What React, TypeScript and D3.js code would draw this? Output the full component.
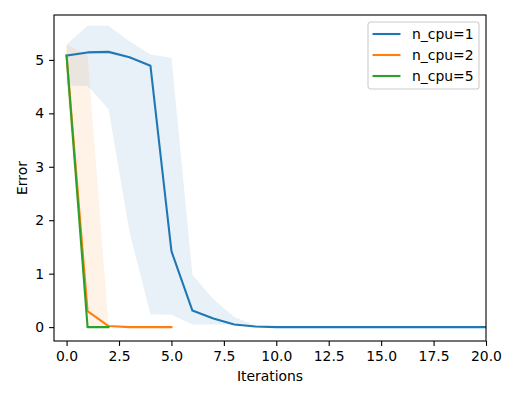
import React, { useEffect, useRef } from 'react';
import * as d3 from 'd3';

// Datos
const seriesLabels = ['n_cpu=1', 'n_cpu=2', 'n_cpu=5'];
const colors = ['#1f77b4', '#ff7f0e', '#2ca02c'];

const cpu1Mean = [5.08, 5.14, 5.15, 5.05, 4.89, 1.42, 0.31, 0.16, 0.05, 0.01, 0, 0, 0, 0, 0, 0, 0, 0, 0, 0, 0];
const cpu1Upper = [5.29, 5.64, 5.64, 5.35, 5.1, 5.04, 0.98, 0.52, 0.19, 0.03, 0, 0, 0, 0, 0, 0, 0, 0, 0, 0, 0];
const cpu1Lower = [4.52, 4.51, 4.08, 1.78, 0.24, 0.23, 0.05, 0.05, 0.04, 0, 0, 0, 0, 0, 0, 0, 0, 0, 0, 0, 0];

const cpu2Mean = [5.08, 0.3, 0.02, 0, 0, 0];
const cpu2Upper = [5.29, 5.08, 0.03, 0, 0, 0];
const cpu2Lower = [4.52, 0, 0, 0, 0, 0];

const cpu5Mean = [5.08, 0, 0];
const cpu5Upper = [5.08, 0, 0];
const cpu5Lower = [5.08, 0, 0];

const xTicks = [0, 2.5, 5, 7.5, 10, 12.5, 15, 17.5, 20];
const yTicks = [0, 1, 2, 3, 4, 5];

const FONT = 'DejaVu Sans, sans-serif';

const App = () => {
  const ref = useRef<SVGSVGElement | null>(null);

  useEffect(() => {
    if (!ref.current) return;
    const svg = d3.select(ref.current);
    svg.selectAll('*').remove();

    const left = 54, right = 486, top = 15, bottom = 341;
    const x = d3.scaleLinear().domain([-0.6, 20]).range([left, right]);
    const y = d3.scaleLinear().domain([-0.26, 5.84]).range([bottom, top]);

    const series = [
      { mean: cpu1Mean, upper: cpu1Upper, lower: cpu1Lower },
      { mean: cpu2Mean, upper: cpu2Upper, lower: cpu2Lower },
      { mean: cpu5Mean, upper: cpu5Upper, lower: cpu5Lower },
    ];

    const clip = svg.append('defs').append('clipPath').attr('id', 'plot-clip')
      .append('rect').attr('x', left).attr('y', top)
      .attr('width', right - left).attr('height', bottom - top);

    const plot = svg.append('g').attr('clip-path', 'url(#plot-clip)');

    // Bandas
    series.forEach((s, i) => {
      const area = d3.area<number>()
        .x((_, j) => x(j))
        .y0((_, j) => y(s.lower[j]))
        .y1(d => y(d));
      plot.append('path')
        .attr('d', area(s.upper))
        .attr('fill', colors[i])
        .attr('fill-opacity', 0.1);
    });

    // Líneas
    series.forEach((s, i) => {
      const line = d3.line<number>().x((_, j) => x(j)).y(d => y(d));
      plot.append('path')
        .attr('d', line(s.mean))
        .attr('fill', 'none')
        .attr('stroke', colors[i])
        .attr('stroke-width', 2.08)
        .attr('stroke-linejoin', 'round')
        .attr('stroke-linecap', 'square');
    });

    // Ejes
    const xAxis = svg.append('g').attr('transform', `translate(0,${bottom})`)
      .call(d3.axisBottom(x).tickValues(xTicks).tickFormat(d3.format('.1f')).tickSizeInner(4.9).tickSizeOuter(0).tickPadding(4.9));
    const yAxis = svg.append('g').attr('transform', `translate(${left},0)`)
      .call(d3.axisLeft(y).tickValues(yTicks).tickFormat(d3.format('d')).tickSizeInner(4.9).tickSizeOuter(0).tickPadding(4.9));
    [xAxis, yAxis].forEach(a => {
      a.select('.domain').remove();
      a.selectAll('line').attr('stroke', '#000').attr('stroke-width', 1.1);
      a.selectAll('text').attr('font-family', FONT).attr('font-size', 13.9).attr('fill', '#000');
    });

    svg.append('rect')
      .attr('x', left).attr('y', top)
      .attr('width', right - left).attr('height', bottom - top)
      .attr('fill', 'none').attr('stroke', '#000').attr('stroke-width', 1.1);

    svg.append('text')
      .attr('x', (left + right) / 2).attr('y', 381)
      .attr('text-anchor', 'middle')
      .attr('font-family', FONT).attr('font-size', 13.9)
      .text('Iterations');

    svg.append('text')
      .attr('transform', `translate(27,${(top + bottom) / 2}) rotate(-90)`)
      .attr('text-anchor', 'middle')
      .attr('font-family', FONT).attr('font-size', 13.9)
      .text('Error');

    // Leyenda
    const lg = svg.append('g').attr('transform', 'translate(368,22)');
    lg.append('rect')
      .attr('width', 111).attr('height', 67).attr('rx', 2.8)
      .attr('fill', '#fff').attr('fill-opacity', 0.8)
      .attr('stroke', '#ccc').attr('stroke-width', 1.1);
    seriesLabels.forEach((label, i) => {
      const cy = 12 + i * 21;
      lg.append('line')
        .attr('x1', 4.5).attr('x2', 32.5).attr('y1', cy).attr('y2', cy)
        .attr('stroke', colors[i]).attr('stroke-width', 2.08);
      lg.append('text')
        .attr('x', 44).attr('y', cy).attr('dy', '0.35em')
        .attr('font-family', FONT).attr('font-size', 13.9)
        .text(label);
    });
  }, []);

  return (
    <div style={{ position: 'absolute', top: 0, left: 0 }}>
      <svg ref={ref} width={515} height={399} style={{ display: 'block', background: '#fff' }} />
    </div>
  );
};

export default App;
